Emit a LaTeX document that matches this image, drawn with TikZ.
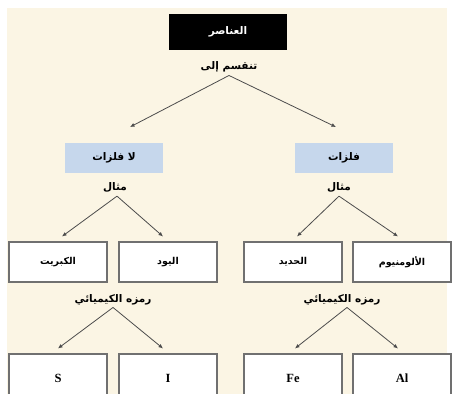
\documentclass[tikz,border=0pt]{standalone}
\usepackage{fontspec}
\setmainfont{Liberation Serif}
\newfontfamily\arabicfont[Script=Arabic]{DejaVu Sans}
\TeXXeTstate=1
\usetikzlibrary{arrows.meta}
\definecolor{cream}{HTML}{FBF5E4}
\definecolor{paleblue}{HTML}{C6D7EC}
\definecolor{boxline}{HTML}{707070}
\newcommand{\ar}[1]{{\arabicfont\bfseries\beginR #1\endR}}
\tikzset{
  titlebox/.style={fill=black, text=white, minimum width=118pt, minimum height=36pt, font=\fontsize{10.5}{12}\selectfont},
  groupbox/.style={fill=paleblue, minimum width=98pt, minimum height=30pt, font=\fontsize{10.5}{12}\selectfont},
  elembox/.style={draw=boxline, line width=1.1pt, fill=white, minimum width=98pt, minimum height=40pt, font=\fontsize{9.5}{11}\selectfont},
  symbox/.style={draw=boxline, line width=1.1pt, fill=white, minimum width=98pt, minimum height=48pt, font=\fontsize{12.5}{14}\selectfont\bfseries},
  lbl/.style={inner sep=1pt, font=\fontsize{10.5}{12}\selectfont},
  arr/.style={draw=black!70, line width=0.8pt, -{Latex[length=4.5pt,width=4pt]}}
}
\begin{document}
\begin{tikzpicture}[x=1pt,y=-1pt]
\useasboundingbox (0,0) rectangle (453,394);
\clip (0,0) rectangle (453,394);
\fill[white] (0,0) rectangle (453,394);
\fill[cream] (7,8) rectangle (447,394);

% top level
\node[titlebox] (elements) at (228,32) {\ar{العناصر}};
\node[lbl] (divides) at (229,67) {\ar{تنقسم إلى}};

% groups
\node[groupbox] (nonmetals) at (114,158) {\ar{لا فلزات}};
\node[groupbox] (metals) at (344,158) {\ar{فلزات}};
\node[lbl] (exA) at (115,187) {\ar{مثال}};
\node[lbl] (exB) at (339,187) {\ar{مثال}};

% elements
\node[elembox] (sulfur) at (58,262) {\ar{الكبريت}};
\node[elembox] (iodine) at (168,262) {\ar{اليود}};
\node[elembox] (iron) at (293,262) {\ar{الحديد}};
\node[elembox] (aluminium) at (402,262) {\ar{الألومنيوم}};
\node[lbl] (symA) at (113,300) {\ar{رمزه الكيميائي}};
\node[lbl] (symB) at (342,300) {\ar{رمزه الكيميائي}};

% symbols
\node[symbox] (S) at (58,378) {S};
\node[symbox] (I) at (168,378) {I};
\node[symbox] (Fe) at (293,378) {Fe};
\node[symbox] (Al) at (402,378) {Al};

% arrows
\coordinate (tipA) at (130,127);
\coordinate (tipB) at (336,127);
\draw[arr] ([yshift=-2pt]divides.south) -- (tipA);
\draw[arr] ([yshift=-2pt]divides.south) -- (tipB);
\draw[arr] ([xshift=2pt,yshift=-3pt]exA.south) -- ([xshift=4pt,yshift=5pt]sulfur.north);
\draw[arr] ([xshift=2pt,yshift=-3pt]exA.south) -- ([xshift=-5pt,yshift=5pt]iodine.north);
\draw[arr] ([yshift=-3pt]exB.south) -- ([xshift=4pt,yshift=5pt]iron.north);
\draw[arr] ([yshift=-3pt]exB.south) -- ([xshift=-4pt,yshift=5pt]aluminium.north);
\draw[arr] ([yshift=-1pt]symA.south) -- ([yshift=5pt]S.north);
\draw[arr] ([yshift=-1pt]symA.south) -- ([xshift=-5pt,yshift=5pt]I.north);
\draw[arr] ([xshift=5pt,yshift=-1pt]symB.south) -- ([xshift=2pt,yshift=5pt]Fe.north);
\draw[arr] ([xshift=5pt,yshift=-1pt]symB.south) -- ([xshift=-4pt,yshift=5pt]Al.north);
\end{tikzpicture}
\end{document}
